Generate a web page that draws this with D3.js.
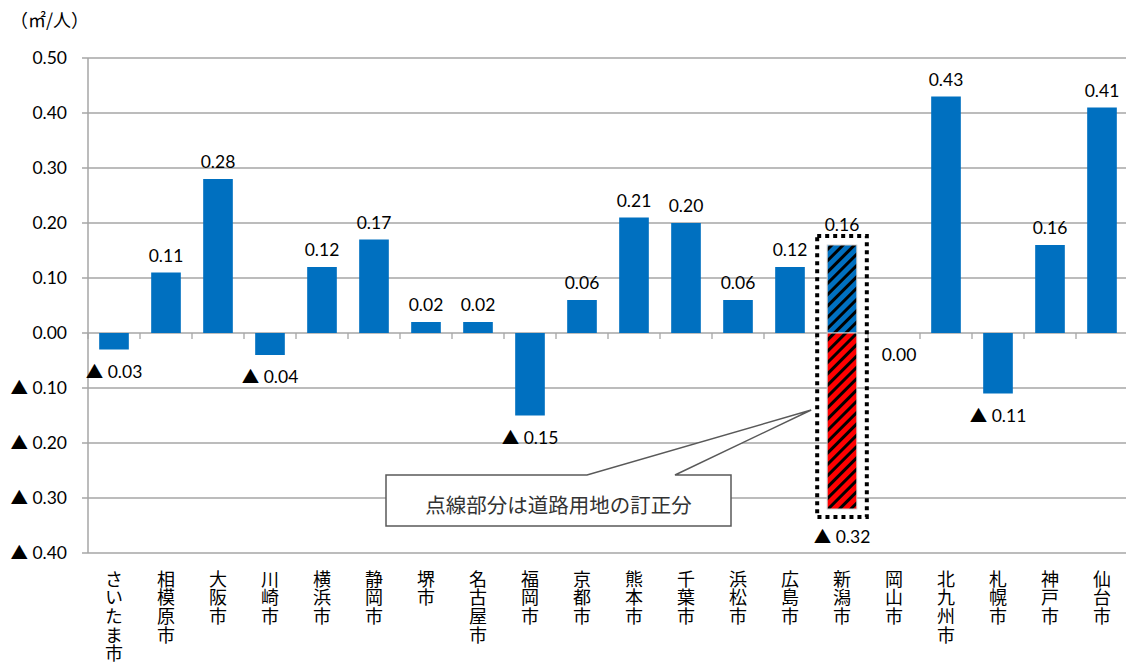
<!DOCTYPE html>
<html><head><meta charset="utf-8">
<script src="https://cdn.jsdelivr.net/npm/d3@7/dist/d3.min.js"></script>
<style>body{margin:0;background:#fff;}svg{display:block;} .vl{writing-mode:vertical-rl;text-orientation:upright;}</style>
</head><body>
<svg id="c" width="1126" height="666"></svg>
<script>
const cities = ["さいたま市","相模原市","大阪市","川崎市","横浜市","静岡市","堺市","名古屋市","福岡市","京都市","熊本市","千葉市","浜松市","広島市","新潟市","岡山市","北九州市","札幌市","神戸市","仙台市"];
const values = [-0.03,0.11,0.28,-0.04,0.12,0.17,0.02,0.02,-0.15,0.06,0.21,0.20,0.06,0.12,0.16,0.00,0.43,-0.11,0.16,0.41];
// 新潟市: correction (dotted part) for road land
const correctedCity = "新潟市";
const correctedUp = 0.16;
const correctedDown = -0.32;
const yTicks = [0.5,0.4,0.3,0.2,0.1,0,-0.1,-0.2,-0.3,-0.4];
const unitLabel = "（㎡/人）";
const calloutText = "点線部分は道路用地の訂正分";

const svg = d3.select("#c");
const numFont = "Lato, 'Noto Sans CJK JP', sans-serif";
const cjkFont = "'Noto Sans CJK JP', sans-serif";
const pL = 88, pR = 1128, pT = 58, pB = 553;

const x = d3.scaleBand().domain(cities).range([pL, pR]).paddingInner(0.43).paddingOuter(0.215);
const y = d3.scaleLinear().domain([-0.4, 0.5]).range([pB, pT]);
const fmt = v => v < 0 ? "▲ " + Math.abs(v).toFixed(2) : v.toFixed(2);

const defs = svg.append("defs");
function hatch(id, color){
  const p = defs.append("pattern").attr("id", id).attr("patternUnits","userSpaceOnUse")
    .attr("width", 8).attr("height", 8).attr("patternTransform","rotate(45)");
  p.append("rect").attr("width",8).attr("height",8).attr("fill",color);
  p.append("rect").attr("x",0).attr("y",0).attr("width",3).attr("height",8).attr("fill","#000");
}
hatch("hb", "#0070C0");
hatch("hr", "#FF0000");

// gridlines
svg.append("g").selectAll("line").data(yTicks).join("line")
  .attr("x1", pL-6).attr("x2", 1126).attr("y1", d=>y(d)).attr("y2", d=>y(d))
  .attr("stroke", "#a6a6a6").attr("stroke-width", 1.3);
// y axis line
svg.append("line").attr("x1",pL).attr("x2",pL).attr("y1",pT).attr("y2",pB)
  .attr("stroke","#a6a6a6").attr("stroke-width",1.5);
// y tick labels
svg.append("g").selectAll("text").data(yTicks).join("text")
  .attr("x", 67).attr("y", d=>y(d)+6).attr("text-anchor","end")
  .attr("font-family", numFont).attr("font-size", 17.5).attr("fill","#000").text(d=>fmt(d));
// unit
svg.append("text").attr("x", 10).attr("y", 27).attr("font-family", cjkFont).attr("font-size", 18).text(unitLabel);

// category axis at 0 with tick marks between categories
const bounds = cities.map((c,i)=> pL + i*x.step());
bounds.push(pR);
svg.append("g").selectAll("line").data(bounds).join("line")
  .attr("x1", d=>d).attr("x2", d=>d).attr("y1", y(0)).attr("y2", y(0)+6)
  .attr("stroke","#a6a6a6").attr("stroke-width",1.3);

// bars
const data = cities.map((c,i)=>({c, v: values[i]}));
svg.append("g").selectAll("rect").data(data.filter(d=>d.c!==correctedCity)).join("rect")
  .attr("x", d=>x(d.c)).attr("width", x.bandwidth())
  .attr("y", d=>y(Math.max(0,d.v))).attr("height", d=>Math.abs(y(d.v)-y(0)))
  .attr("fill", "#0070C0");

// corrected bar
const cx = x(correctedCity);
svg.append("rect").attr("x", cx).attr("width", x.bandwidth()).attr("y", y(correctedUp)).attr("height", y(0)-y(correctedUp))
  .attr("fill","url(#hb)").attr("stroke","#d0d0d0").attr("stroke-width",1);
svg.append("rect").attr("x", cx).attr("width", x.bandwidth()).attr("y", y(0)).attr("height", y(correctedDown)-y(0))
  .attr("fill","url(#hr)").attr("stroke","#d0d0d0").attr("stroke-width",1);
// dotted outline
svg.append("rect").attr("x", cx-10).attr("width", x.bandwidth()+20)
  .attr("y", y(correctedUp)-9).attr("height", y(correctedDown)-y(correctedUp)+17)
  .attr("fill","none").attr("stroke","#000").attr("stroke-width",4).attr("stroke-dasharray","4,4");

// data labels
svg.append("g").selectAll("text").data(data).join("text")
  .attr("x", d=> x(d.c)+x.bandwidth()/2 + (d.v===0?5:0))
  .attr("y", d=>{
    if (d.c===correctedCity) return y(correctedUp)-14;
    if (d.v>0) return y(d.v)-11;
    return y(d.v)+28;
  })
  .attr("text-anchor","middle").attr("font-family", numFont).attr("font-size", 17.5).attr("fill","#000")
  .text(d=>fmt(d.v));
svg.append("text").attr("x", cx+x.bandwidth()/2).attr("y", y(correctedDown)+34)
  .attr("text-anchor","middle").attr("font-family", numFont).attr("font-size", 17.5).text(fmt(correctedDown));

// category labels (vertical)
svg.append("g").selectAll("text").data(cities).join("text")
  .attr("class","vl")
  .attr("x", c=> x(c)+x.bandwidth()/2).attr("y", 570)
  .attr("font-family", cjkFont).attr("font-size", 18).attr("letter-spacing", 0.6).attr("fill","#000")
  .text(c=>c);

// callout
const tipX = cx-16, tipY = y(-0.14);
const bx0 = 386, bx1 = 731, by0 = 475, by1 = 526;
const pts = [[bx0,by0],[587,by0],[tipX,tipY],[675,by0],[bx1,by0],[bx1,by1],[bx0,by1]];
svg.append("path").attr("d", d3.line()(pts)+"Z").attr("fill","#fff").attr("stroke","#595959").attr("stroke-width",1.5);
svg.append("text").attr("x",(bx0+bx1)/2).attr("y",513).attr("text-anchor","middle")
  .attr("font-family", cjkFont).attr("font-size", 20.5).attr("fill","#333").text(calloutText);
</script>
</body></html>
